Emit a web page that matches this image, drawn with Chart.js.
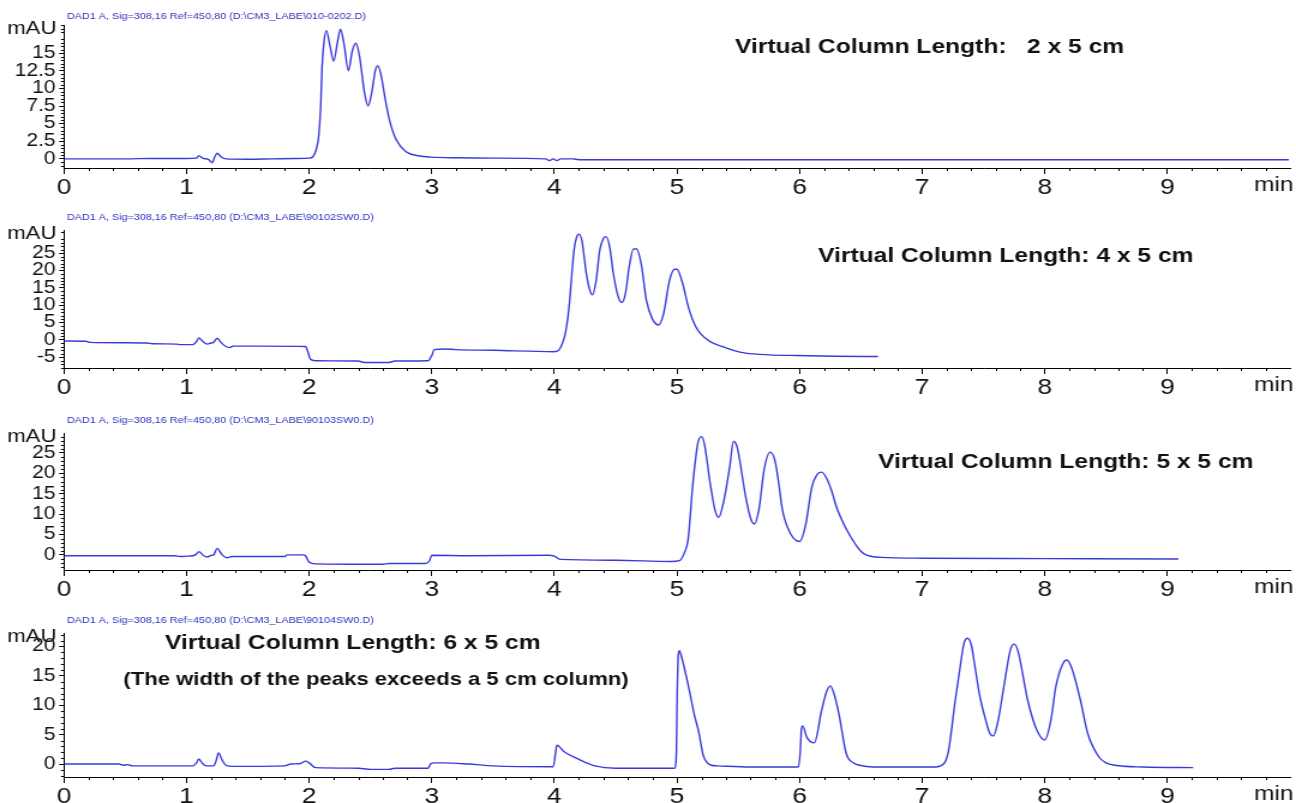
<!DOCTYPE html>
<html>
<head>
<meta charset="utf-8">
<title>Virtual column length chromatograms</title>
<script src="https://cdn.jsdelivr.net/npm/chart.js"></script>
<style>
  html, body { margin: 0; padding: 0; background: #fff; }
  body { width: 1296px; height: 803px; position: relative; overflow: hidden; }
  /* each trace is drawn 1080 px wide and widened to the full page width */
  .trace { position: absolute; left: 0; transform-origin: 0 0; transform: scaleX(1.2); }
</style>
</head>
<body>
<canvas id="run1" class="trace" width="1080" height="200" style="top:0px"></canvas>
<canvas id="run2" class="trace" width="1080" height="200" style="top:200px"></canvas>
<canvas id="run3" class="trace" width="1080" height="200" style="top:402px"></canvas>
<canvas id="run4" class="trace" width="1080" height="200" style="top:603px"></canvas>
<script>
// ---- chromatogram data: [retention time (min), absorbance (mAU)] ----
const run1 = [[0,0],[0.5,0],[0.72,0.05],[1.0,0.05],[1.08,0.1],[1.1,0.45],[1.13,0.1],[1.18,-0.1],[1.21,-0.55],[1.23,0.3],
  [1.25,0.8],[1.28,0.3],[1.32,0],[1.5,-0.05],[1.7,0],[1.9,0.05],[2.0,0.1],[2.03,0.3],[2.06,1.5],[2.08,3.6],
  [2.095,8.0],[2.105,13.0],[2.12,16.5],[2.14,18.2],[2.17,16.0],[2.2,13.9],[2.23,16.5],[2.255,18.4],[2.285,16.2],[2.32,12.5],
  [2.35,15.2],[2.38,16.4],[2.41,14.6],[2.45,9.5],[2.48,7.5],[2.51,9.4],[2.54,12.6],[2.56,13.2],[2.585,12.0],[2.62,8.5],
  [2.655,5.5],[2.71,2.7],[2.79,1.0],[2.9,0.4],[3.0,0.25],[3.2,0.15],[3.5,0.1],[3.93,0],[3.96,-0.25],[3.99,0],
  [4.02,-0.25],[4.05,0],[4.15,0],[4.2,-0.12],[5.0,-0.12],[7.0,-0.12],[9.99,-0.12]];

const run2 = [[0,-0.3],[0.18,-0.4],[0.21,-0.7],[0.5,-0.8],[0.68,-0.9],[0.72,-1.1],[0.92,-1.2],[0.95,-1.35],[1.05,-1.35],[1.08,-0.5],
  [1.1,0.6],[1.13,-0.4],[1.17,-1.2],[1.2,-0.9],[1.22,-0.7],[1.25,0.5],[1.28,-0.7],[1.32,-1.9],[1.35,-2.2],[1.38,-1.8],
  [1.6,-1.8],[1.97,-1.9],[1.99,-3.5],[2.01,-5.6],[2.05,-6.0],[2.4,-6.1],[2.45,-6.5],[2.65,-6.5],[2.7,-6.1],[2.97,-6.0],
  [3.0,-4.5],[3.02,-2.8],[3.1,-2.6],[3.2,-2.8],[3.5,-3.0],[4.0,-3.4],[4.04,-2.8],[4.07,-0.5],[4.09,2.0],[4.12,9.6],
  [4.14,18.0],[4.16,25.9],[4.18,29.5],[4.2,30.5],[4.225,28.5],[4.26,19.2],[4.29,14.2],[4.31,13.0],[4.34,17.0],[4.37,25.9],
  [4.4,29.3],[4.42,29.8],[4.45,27.0],[4.48,19.3],[4.52,12.5],[4.55,10.8],[4.58,13.5],[4.61,21.1],[4.645,26.2],[4.67,26.2],
  [4.71,21.5],[4.75,11.5],[4.8,6.0],[4.85,4.3],[4.89,7.5],[4.94,17.3],[4.98,20.4],[5.0,20.4],[5.04,17.0],[5.1,8.6],
  [5.15,4.0],[5.19,1.9],[5.27,-0.5],[5.37,-1.9],[5.46,-3.0],[5.56,-3.8],[5.75,-4.3],[5.97,-4.5],[6.3,-4.7],[6.64,-4.8]];

const run3 = [[0,-0.2],[0.9,-0.2],[0.95,-0.4],[1.0,-0.3],[1.05,-0.2],[1.08,0.2],[1.1,0.8],[1.14,-0.2],[1.17,-0.5],[1.2,-0.1],
  [1.22,0],[1.25,1.6],[1.29,0],[1.33,-0.7],[1.37,-0.4],[1.5,-0.4],[1.8,-0.4],[1.82,0],[1.95,0],[1.97,-0.2],
  [2.0,-1.8],[2.05,-2.2],[2.5,-2.3],[2.6,-2.3],[2.65,-2.1],[2.95,-2.1],[2.98,-1.5],[3.0,-0.1],[3.3,-0.2],[3.95,-0.1],
  [4.0,-0.3],[4.05,-1.1],[4.5,-1.3],[4.95,-1.6],[5.02,-1.4],[5.06,0.5],[5.09,3.7],[5.13,17.6],[5.17,27.4],[5.2,29.0],
  [5.225,27.0],[5.27,17.6],[5.31,11.0],[5.34,9.2],[5.38,13.0],[5.43,21.6],[5.46,27.8],[5.49,26.5],[5.56,14.3],[5.6,9.0],
  [5.63,7.6],[5.67,11.5],[5.71,20.8],[5.76,25.2],[5.8,23.0],[5.83,17.5],[5.86,11.0],[5.93,5.0],[6.0,3.3],[6.05,7.5],
  [6.1,16.7],[6.14,19.6],[6.18,20.3],[6.22,18.8],[6.26,15.8],[6.3,11.8],[6.35,8.2],[6.4,5.3],[6.47,2.0],[6.53,0.2],
  [6.67,-0.6],[7.0,-0.8],[8.0,-0.9],[9.09,-1.0]];

const run4 = [[0,0],[0.45,0],[0.48,-0.2],[0.52,-0.1],[0.56,-0.3],[1.05,-0.3],[1.08,0.2],[1.1,0.85],[1.13,0.1],[1.16,-0.3],
  [1.22,-0.3],[1.24,0.5],[1.26,1.9],[1.29,0.7],[1.32,-0.2],[1.37,-0.4],[1.8,-0.3],[1.85,0],[1.93,0.1],[1.97,0.5],
  [2.0,0.2],[2.05,-0.6],[2.4,-0.7],[2.5,-0.9],[2.65,-0.9],[2.7,-0.7],[2.97,-0.7],[2.99,0],[3.02,0.2],[3.1,0.2],
  [3.3,0],[3.5,-0.3],[3.99,-0.45],[4.01,2.0],[4.02,3.2],[4.08,2.1],[4.2,0.8],[4.33,-0.3],[4.5,-0.7],[4.98,-0.7],
  [4.995,2.0],[5.0,10.0],[5.01,18.5],[5.02,19.3],[5.04,18.0],[5.1,12.6],[5.14,8.5],[5.18,5.2],[5.21,1.8],[5.23,0.7],
  [5.28,-0.2],[5.33,-0.3],[5.6,-0.5],[5.99,-0.5],[6.005,2.0],[6.015,6.0],[6.025,6.5],[6.06,4.5],[6.12,3.6],[6.18,9.2],
  [6.22,12.3],[6.25,13.3],[6.28,12.0],[6.32,8.6],[6.38,1.8],[6.44,0.2],[6.49,-0.2],[6.6,-0.5],[7.1,-0.5],[7.15,-0.3],
  [7.21,1.8],[7.27,10.9],[7.31,16.6],[7.34,20.5],[7.37,21.4],[7.4,20.3],[7.43,16.6],[7.47,11.5],[7.51,8.1],[7.55,5.3],
  [7.58,4.8],[7.62,7.5],[7.67,13.7],[7.72,19.5],[7.75,20.4],[7.78,19.3],[7.86,10.9],[7.93,6.0],[8.0,4.1],[8.05,7.5],
  [8.09,13.2],[8.15,17.2],[8.18,17.7],[8.22,16.3],[8.29,10.9],[8.35,5.2],[8.44,1.25],[8.5,0.2],[8.57,-0.2],[8.8,-0.5],
  [9.21,-0.6]];

// ---- axis ticks ----
const timeTicks = [0, 1, 2, 3, 4, 5, 6, 7, 8, 9];
const run1Ticks = [0, 2.5, 5, 7.5, 10, 12.5, 15];
const run2Ticks = [-5, 0, 5, 10, 15, 20, 25];
const run3Ticks = [0, 5, 10, 15, 20, 25];
const run4Ticks = [0, 5, 10, 15, 20];

// ---- texts ----
const headers = [
  'DAD1 A, Sig=308,16 Ref=450,80 (D:\\CM3_LABE\\010-0202.D)',
  'DAD1 A, Sig=308,16 Ref=450,80 (D:\\CM3_LABE\\90102SW0.D)',
  'DAD1 A, Sig=308,16 Ref=450,80 (D:\\CM3_LABE\\90103SW0.D)',
  'DAD1 A, Sig=308,16 Ref=450,80 (D:\\CM3_LABE\\90104SW0.D)'
];
const columnNotes = [
  'Virtual Column Length:   2 x 5 cm',
  'Virtual Column Length: 4 x 5 cm',
  'Virtual Column Length: 5 x 5 cm',
  'Virtual Column Length: 6 x 5 cm'
];
const widthNote = '(The width of the peaks exceeds a 5 cm column)';
const yUnit = 'mAU';
const xUnit = 'min';

const FONT = "'Liberation Sans', Arial, Helvetica, sans-serif";
const TRACE_COLOR = '#3a3adc';
const HEADER_COLOR = '#3030c0';
const INK = '#111';

// minor ticks, unit labels, file header and notes
function makeDecor(cfg) {
  return {
    id: 'decor',
    afterDraw(chart) {
      const ctx = chart.ctx, a = chart.chartArea;
      const xs = chart.scales.x, ys = chart.scales.y;
      ctx.save();
      ctx.strokeStyle = '#000';
      ctx.lineWidth = 1;
      ctx.beginPath();
      for (let k = 1; k < 50; k++) {
        if (k % 5 === 0) continue;
        const px = Math.round(xs.getPixelForValue(k / 5)) + 0.5;
        ctx.moveTo(px, a.bottom);
        ctx.lineTo(px, a.bottom + 3);
      }
      for (let k = Math.ceil(ys.min / cfg.yMinor); k * cfg.yMinor <= ys.max; k++) {
        const v = k * cfg.yMinor;
        const r = v / cfg.yMajor;
        if (Math.abs(r - Math.round(r)) < 1e-6) continue;
        const py = Math.round(ys.getPixelForValue(v)) + 0.5;
        ctx.moveTo(a.left, py);
        ctx.lineTo(a.left - 2.5, py);
      }
      ctx.stroke();

      ctx.textBaseline = 'alphabetic';
      ctx.textAlign = 'left';
      ctx.fillStyle = HEADER_COLOR;
      ctx.font = `9px ${FONT}`;
      ctx.fillText(cfg.header, 55.8, cfg.headerY);

      ctx.fillStyle = INK;
      ctx.textAlign = 'right';
      ctx.font = `18.5px ${FONT}`;
      ctx.fillText(yUnit, 47, a.top + 9);
      ctx.font = `20.5px ${FONT}`;
      ctx.fillText(xUnit, 1078, a.bottom + 23);

      ctx.textAlign = 'left';
      for (const n of cfg.notes) {
        ctx.font = `bold ${n.size}px ${FONT}`;
        ctx.fillText(n.text, n.x, n.y);
      }
      ctx.restore();
    }
  };
}

function drawRun(id, points, cfg) {
  const axisGrid = { drawOnChartArea: false, drawTicks: true, tickColor: '#000', lineWidth: 1 };
  const axisBorder = { display: true, color: '#000', width: 1 };
  new Chart(document.getElementById(id), {
    type: 'line',
    data: {
      datasets: [{
        data: points.map(p => ({ x: p[0], y: p[1] })),
        borderColor: TRACE_COLOR,
        borderWidth: 1.4,
        pointRadius: 0,
        fill: false,
        cubicInterpolationMode: 'monotone'
      }]
    },
    options: {
      responsive: false,
      animation: false,
      events: [],
      layout: { padding: { left: 2, right: 5, top: cfg.padTop, bottom: cfg.padBottom } },
      plugins: { legend: { display: false }, tooltip: { enabled: false } },
      scales: {
        x: {
          type: 'linear', min: 0, max: 10,
          afterBuildTicks: s => { s.ticks = timeTicks.map(v => ({ value: v })); },
          afterFit: s => { s.height = cfg.xAxisHeight; },
          ticks: { font: { family: FONT, size: 22 }, color: INK, padding: 1, maxRotation: 0, autoSkip: false,
                   callback: v => String(v) },
          grid: Object.assign({ tickLength: 6 }, axisGrid),
          border: axisBorder
        },
        y: {
          type: 'linear', min: cfg.yMin, max: cfg.yMax,
          afterBuildTicks: s => { s.ticks = cfg.yTicks.map(v => ({ value: v })); },
          afterFit: s => { s.width = 51.3; },
          ticks: { font: { family: FONT, size: 17.5 }, color: INK, padding: 3, autoSkip: false,
                   callback: v => String(v) },
          grid: Object.assign({ tickLength: 4 }, axisGrid),
          border: axisBorder
        }
      }
    },
    plugins: [makeDecor(cfg)]
  });
}

drawRun('run1', run1, {
  yMin: -1.3, yMax: 19, yTicks: run1Ticks, yMinor: 0.5, yMajor: 2.5,
  padTop: 25, padBottom: 4, xAxisHeight: 28,
  header: headers[0], headerY: 18.5,
  notes: [{ text: columnNotes[0], x: 612.5, y: 53, size: 20.5 }]
});
drawRun('run2', run2, {
  yMin: -8.1, yMax: 31.7, yTicks: run2Ticks, yMinor: 1, yMajor: 5,
  padTop: 30, padBottom: 4, xAxisHeight: 28,
  header: headers[1], headerY: 20,
  notes: [{ text: columnNotes[1], x: 681.7, y: 62.3, size: 20.5 }]
});
drawRun('run3', run3, {
  yMin: -3.7, yMax: 29.9, yTicks: run3Ticks, yMinor: 1, yMajor: 5,
  padTop: 31, padBottom: 4, xAxisHeight: 28,
  header: headers[2], headerY: 21,
  notes: [{ text: columnNotes[2], x: 731.7, y: 65.7, size: 20.5 }]
});
drawRun('run4', run4, {
  yMin: -2.2, yMax: 22.3, yTicks: run4Ticks, yMinor: 1, yMajor: 5,
  padTop: 30, padBottom: 0, xAxisHeight: 26,
  header: headers[3], headerY: 20,
  notes: [
    { text: columnNotes[3], x: 137.5, y: 46, size: 20.5 },
    { text: widthNote, x: 102.8, y: 82, size: 18.4 }
  ]
});
</script>
</body>
</html>
